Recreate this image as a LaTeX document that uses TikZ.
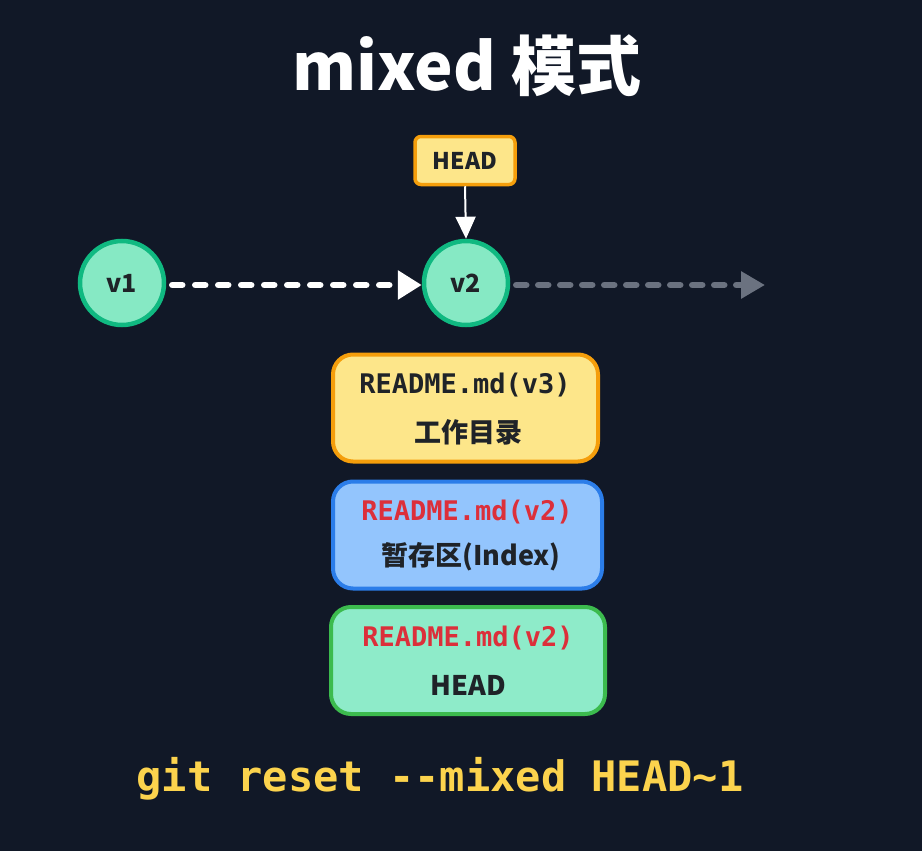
\documentclass[tikz,border=0pt]{standalone}
\usepackage{fontspec}
\usetikzlibrary{arrows.meta}
\newfontfamily\cjk{Noto Sans CJK SC}
\newfontfamily\monof{DejaVu Sans Mono}
\definecolor{bg}{HTML}{111827}
\definecolor{ylfill}{HTML}{FDE68A}
\definecolor{ylborder}{HTML}{F59E0B}
\definecolor{blfill}{HTML}{93C5FD}
\definecolor{blborder}{HTML}{2B7DE9}
\definecolor{gnfill}{HTML}{8EEBC9}
\definecolor{gnborder}{HTML}{3CBB4E}
\definecolor{cmfill}{HTML}{86E9C4}
\definecolor{cmborder}{HTML}{10B981}
\definecolor{txtdark}{HTML}{1F2328}
\definecolor{txtred}{HTML}{DC2F3A}
\definecolor{cmdyellow}{HTML}{FCD34D}
\definecolor{dashgray}{HTML}{6B7280}
\tikzset{
  commit/.style={circle, minimum size=84pt, inner sep=0pt, fill=cmfill, draw=cmborder, line width=4.5pt,
    text=txtdark, font=\cjk\bfseries\fontsize{25}{28}\selectfont},
  areabox/.style={rounded corners=20pt, line width=4pt, minimum height=107pt, inner sep=0pt},
  monotext/.style={font=\monof\bfseries\fontsize{27}{30}\selectfont},
  cjktext/.style={font=\cjk\bfseries\fontsize{27}{30}\selectfont, text=txtdark},
}
\begin{document}
\begin{tikzpicture}[x=1pt,y=-1pt]
\fill[bg] (0,0) rectangle (922,851);
\useasboundingbox (0,0) rectangle (922,851);

% title
\node[text=white, font=\cjk\bfseries\fontsize{65}{70}\selectfont] (title) at (467,66) {mixed 模式};

% HEAD pointer
\node[rounded corners=6pt, fill=ylfill, draw=ylborder, line width=3.5pt, minimum width=100pt, minimum height=48pt,
  text=txtdark, font=\cjk\bfseries\fontsize{23}{26}\selectfont] (headptr) at (465,160.5) {HEAD};

% commits
\node[commit] (v1) at (122,283) {v1};
\node[commit] (v2) at (466,283) {v2};
\coordinate (future) at (765,285);

\draw[white, line width=2pt, -{Triangle[length=22pt,width=20pt]}] (headptr.south) -- (v2.north);
\draw[white, line width=6.5pt, line cap=round, dash pattern=on 10pt off 13pt, -{Triangle[length=24pt,width=28pt,line cap=butt]}]
  (v1.east) ++(6,2) coordinate (v1s) (v1s) -- (v2.west |- v1s);
\draw[dashgray, line width=6.5pt, line cap=round, dash pattern=on 10pt off 12pt, -{Triangle[length=24pt,width=26pt]}]
  (v2.east) ++(6,2) coordinate (v2s) (v2s) -- (future);

% area boxes
\node[areabox, fill=ylfill, draw=ylborder, minimum width=265pt] (work) at (465.5,408) {};
\node[monotext, text=txtdark] (worka) at (465,385) {README.md(v3)};
\node[cjktext] (workb) at (468,432) {工作目录};

\node[areabox, fill=blfill, draw=blborder, minimum width=269pt] (stage) at (467.5,535) {};
\node[monotext, text=txtred] (stagea) at (467,512) {README.md(v2)};
\node[cjktext] (stageb) at (471,557) {暂存区(Index)};

\node[areabox, fill=gnfill, draw=gnborder, minimum width=274pt] (headarea) at (468,660.5) {};
\node[monotext, text=txtred] (heada) at (468,638) {README.md(v2)};
\node[cjktext] (headb) at (468,685) {HEAD};

% command
\node[text=cmdyellow, font=\monof\bfseries\fontsize{42}{46}\selectfont] (cmd) at (440,779) {git reset -{}-mixed HEAD\char`~1};
\end{tikzpicture}
\end{document}
